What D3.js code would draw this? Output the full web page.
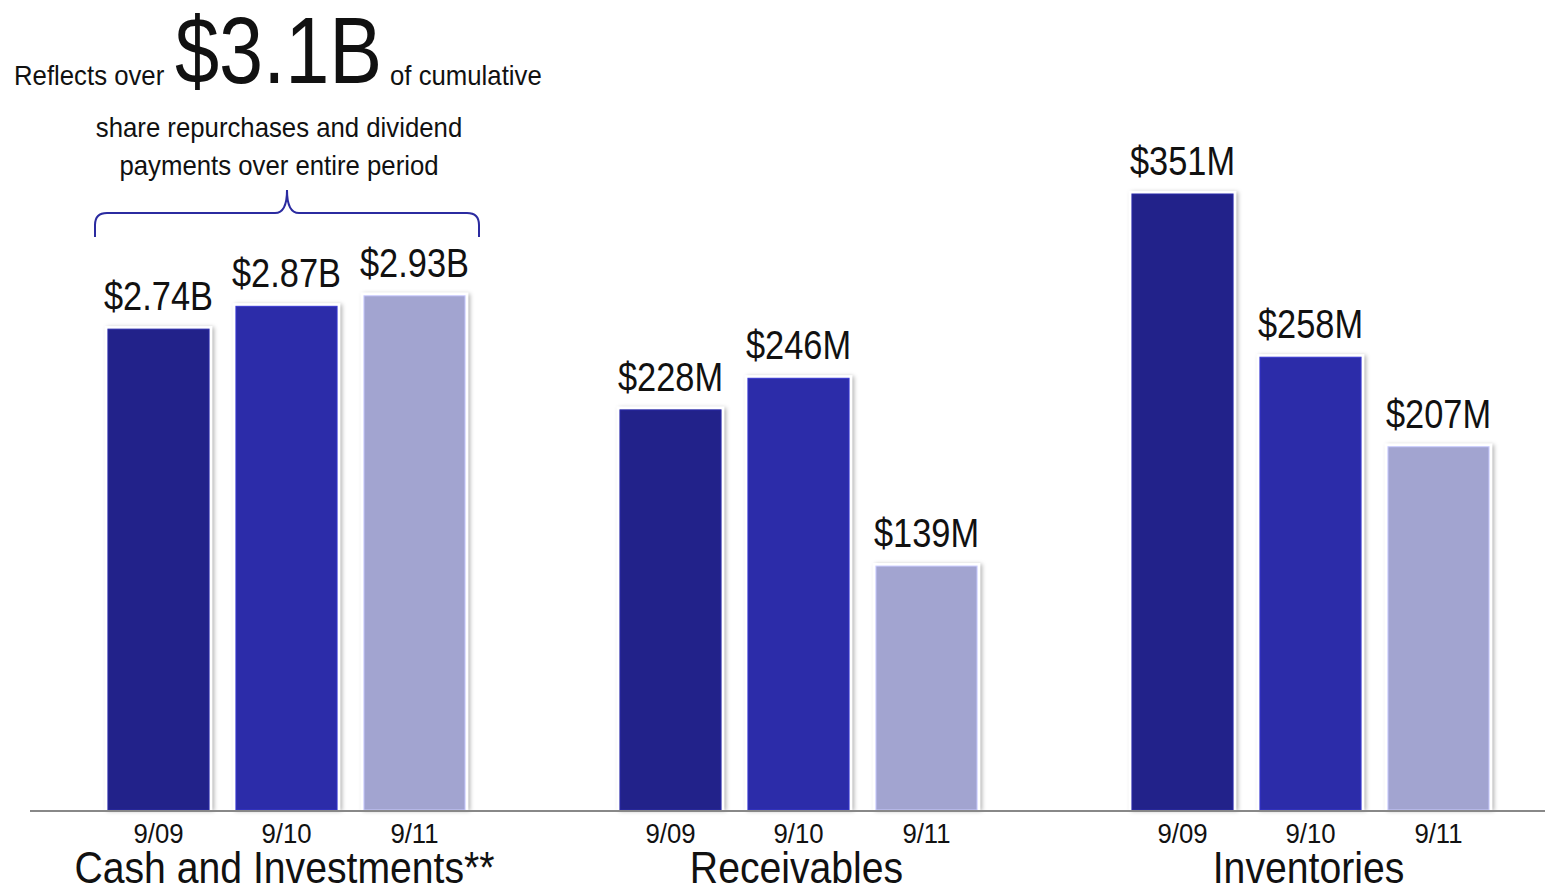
<!DOCTYPE html>
<html>
<head>
<meta charset="utf-8">
<script src="https://cdn.jsdelivr.net/npm/d3@7"></script>
<style>
  html, body { margin: 0; padding: 0; background: #fff; }
  svg { display: block; }
  text { font-family: "Liberation Sans", Arial, sans-serif; fill: #111; }
</style>
</head>
<body>
<svg id="chart" width="1545" height="889"></svg>
<script>
// chart data
var groups = ['Cash and Investments**', 'Receivables', 'Inventories'];
var periods = ['9/09', '9/10', '9/11'];
var cashValues = [2.74, 2.87, 2.93];          // $B
var receivableValues = [228, 246, 139];       // $M
var inventoryValues = [351, 258, 207];        // $M
var valueLabels = [
    ['$2.74B', '$2.87B', '$2.93B'],
    ['$228M', '$246M', '$139M'],
    ['$351M', '$258M', '$207M']
];
// cash is drawn in $B on a 1:100 scale against the $M groups
var unitFactor = [100, 1, 1];
var periodColors = ['#22228a', '#2c2ca9', '#a2a4d0'];

(function (d3) {
    var svg = d3.select('#chart'),
        baseY = 810;

    // text squeezed sideways, the reference uses a condensed face
    function narrowText(parent, x, y, size, sx, anchor, str) {
        return parent.append('g')
            .attr('transform', 'translate(' + x + ',' + y + ') scale(' + sx + ',1)')
            .append('text')
            .attr('text-anchor', anchor)
            .style('font-size', size + 'px')
            .text(str);
    }

    var rows = [cashValues, receivableValues, inventoryValues];
    var data = [];
    groups.forEach(function (g, gi) {
        rows[gi].forEach(function (v, pi) {
            data.push({ group: g, period: periods[pi], value: v * unitFactor[gi], label: valueLabels[gi][pi], pi: pi });
        });
    });

    var x0 = d3.scaleBand().domain(groups).range([30.5, 1566.5]);
    var x1 = d3.scaleBand().domain(periods).range([64, 448]).paddingInner(0.21).paddingOuter(0.105);
    var y = d3.scaleLinear().domain([0, 350]).range([baseY, baseY - 614.25]);

    // soft shadow round the bars
    var defs = svg.append('defs');
    var f = defs.append('filter').attr('id', 'shadow')
        .attr('x', '-20%').attr('y', '-20%').attr('width', '140%').attr('height', '140%');
    f.append('feDropShadow')
        .attr('dx', 2).attr('dy', 1).attr('stdDeviation', 2)
        .attr('flood-color', '#000').attr('flood-opacity', 0.3);

    var bars = svg.append('g').attr('class', 'bars');
    var bar = bars.selectAll('g.bar').data(data).enter().append('g').attr('class', 'bar');

    bar.append('rect')
        .attr('x', function (d) { return x0(d.group) + x1(d.period) - 3; })
        .attr('y', function (d) { return y(d.value) - 3; })
        .attr('width', x1.bandwidth() + 6)
        .attr('height', function (d) { return baseY - y(d.value) + 3; })
        .attr('fill', '#fff')
        .attr('filter', 'url(#shadow)');

    bar.append('rect')
        .attr('x', function (d) { return x0(d.group) + x1(d.period); })
        .attr('y', function (d) { return y(d.value); })
        .attr('width', x1.bandwidth())
        .attr('height', function (d) { return baseY - y(d.value); })
        .attr('fill', function (d) { return periodColors[d.pi]; })
        .attr('stroke', function (d) { return d3.color(periodColors[d.pi]).brighter(0.6); })
        .attr('stroke-width', 1);

    bar.each(function (d) {
        narrowText(d3.select(this), x0(d.group) + x1(d.period) + x1.bandwidth() / 2,
            y(d.value) - 19, 40, 0.86, 'middle', d.label);
    });

    // baseline
    svg.append('line')
        .attr('x1', 30).attr('x2', 1545)
        .attr('y1', baseY + 1).attr('y2', baseY + 1)
        .attr('stroke', '#888').attr('stroke-width', 2);

    // period ticks per group
    groups.forEach(function (g) {
        var axis = d3.axisBottom(x1).tickSize(0).tickPadding(0);
        var ax = svg.append('g')
            .attr('transform', 'translate(' + x0(g) + ',' + (baseY + 33) + ')')
            .call(axis);
        ax.select('.domain').remove();
        ax.attr('font-family', null).attr('font-size', null);
        ax.selectAll('.tick text')
            .attr('y', 0)
            .attr('dy', null)
            .attr('fill', '#111')
            .attr('transform', 'scale(0.92,1)')
            .style('font-size', '28px');
    });

    // group labels
    groups.forEach(function (g) {
        narrowText(svg, x0(g) + x0.bandwidth() / 2 - 2, 883, 44, 0.89, 'middle', g);
    });

    // note over the cash group
    narrowText(svg, 14, 85, 28, 0.92, 'start', 'Reflects over');
    narrowText(svg, 175, 83, 95, 0.835, 'start', '$3.1B');
    narrowText(svg, 390, 85, 28, 0.92, 'start', 'of cumulative');
    narrowText(svg, 279, 137, 28, 0.92, 'middle', 'share repurchases and dividend');
    narrowText(svg, 279, 175, 28, 0.92, 'middle', 'payments over entire period');

    // curly brace
    var bl = 95, br = 479, bm = 287, top = 190, mid = 213, bot = 237, r = 12;
    var path = d3.path();
    path.moveTo(bl, bot);
    path.lineTo(bl, mid + r);
    path.quadraticCurveTo(bl, mid, bl + r, mid);
    path.lineTo(bm - r, mid);
    path.quadraticCurveTo(bm, mid, bm, top);
    path.quadraticCurveTo(bm, mid, bm + r, mid);
    path.lineTo(br - r, mid);
    path.quadraticCurveTo(br, mid, br, mid + r);
    path.lineTo(br, bot);
    svg.append('path').attr('d', path.toString())
        .attr('fill', 'none').attr('stroke', '#2b2ba0').attr('stroke-width', 2);
}(window.d3));
</script>
</body>
</html>
